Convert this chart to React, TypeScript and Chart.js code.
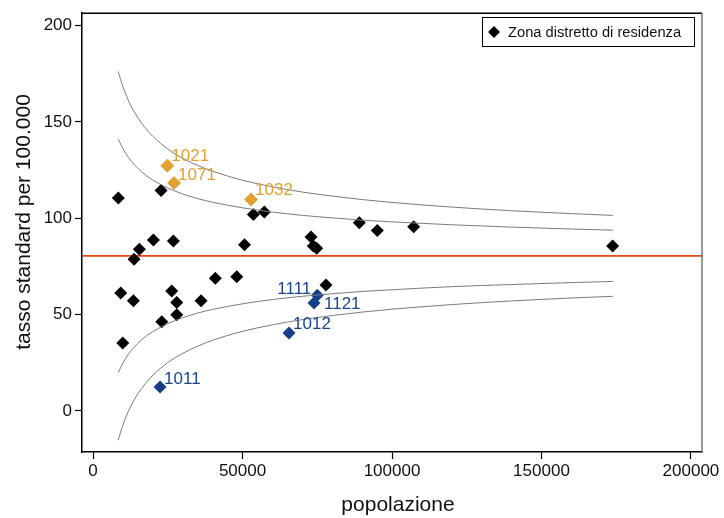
import React, { useEffect, useRef } from 'react';
import { Chart, registerables } from 'chart.js';

Chart.register(...registerables);

const FONT = '"Liberation Sans", Arial, Helvetica, sans-serif';

// Axis ticks
const xTicks = [0, 50000, 100000, 150000, 200000];
const yTicks = [0, 50, 100, 150, 200];
const X_MIN = -3700;
const X_MAX = 203700;
const Y_MIN = -21.3;
const Y_MAX = 206.4;

// Reference (overall) rate
const REFERENCE_RATE = 80.5;

// Districts within limits (black)
const districtPop = [
  8460, 22740, 53620, 57290, 20170, 26860, 15490, 13710, 50650, 72910, 73680, 74800,
  9260, 13480, 26310, 27990, 27990, 22970, 9930, 36120, 40900, 48060, 77930, 89070,
  95090, 107260, 173800,
];
const districtRate = [
  110.5, 114.4, 102.0, 103.3, 88.7, 88.2, 83.9, 78.7, 86.3, 90.3, 85.6, 84.4,
  61.2, 57.2, 62.3, 56.3, 49.9, 46.3, 35.3, 57.2, 68.9, 69.6, 65.3, 97.6,
  93.7, 95.6, 85.6,
];

// Districts above the limits (orange)
const highCodes = ['1021', '1071', '1032'];
const highPop = [24850, 27090, 52840];
const highRate = [127.3, 118.3, 109.7];

// Districts below the limits (blue)
const lowCodes = ['1011', '1012', '1111', '1121'];
const lowPop = [22410, 65550, 75020, 73910];
const lowRate = [12.4, 40.5, 60.1, 56.0];

// Funnel control limits
const limitPop = [
  8400, 10000, 12500, 15000, 17500, 20000, 25000, 30000, 35000, 40000, 50000,
  60000, 70000, 80000, 90000, 100000, 120000, 140000, 160000, 173900,
];
const upper998 = [
  176.2, 168.2, 158.9, 152.1, 146.8, 142.5, 135.9, 131.1, 127.4, 124.4, 119.7,
  116.3, 113.6, 111.5, 109.7, 108.2, 105.8, 103.9, 102.4, 101.5,
];
const upper95 = [
  141.2, 136.1, 130.2, 125.9, 122.5, 119.8, 115.7, 112.6, 110.2, 108.3, 105.4,
  103.2, 101.5, 100.2, 99.0, 98.1, 96.6, 95.4, 94.4, 93.8,
];
const lower95 = [
  19.8, 24.9, 30.8, 35.1, 38.5, 41.2, 45.3, 48.4, 50.8, 52.7, 55.6,
  57.8, 59.5, 60.8, 62.0, 62.9, 64.5, 65.6, 66.6, 67.2,
];
const lower998 = [
  -15.2, -7.2, 2.1, 8.9, 14.2, 18.5, 25.1, 29.9, 33.6, 36.7, 41.3,
  44.7, 47.4, 49.5, 51.3, 52.8, 55.2, 57.1, 58.6, 59.5,
];

const LEGEND_TEXT = 'Zona distretto di residenza';
const X_TITLE = 'popolazione';
const Y_TITLE = 'tasso standard per 100.000';

const ORANGE = '#e3a12f';
const BLUE = '#123f87';
const CURVE = '#7a7a7a';
const RED = '#ea4419';

const toPts = (xs: number[], ys: number[]) => xs.map((x, i) => ({ x, y: ys[i] }));

// label placement (offsets in px relative to the marker)
const labelPlacement: Record<string, { dx: number; dy: number; align: CanvasTextAlign }> = {
  '1021': { dx: 4, dy: -9, align: 'left' },
  '1071': { dx: 4, dy: -8, align: 'left' },
  '1032': { dx: 4, dy: -9, align: 'left' },
  '1011': { dx: 4, dy: -8, align: 'left' },
  '1012': { dx: 4, dy: -9, align: 'left' },
  '1111': { dx: -6, dy: -6, align: 'right' },
  '1121': { dx: 10, dy: 1, align: 'left' },
};

const decorPlugin = {
  id: 'decor',
  beforeDatasetsDraw(chart: any) {
    const { ctx, chartArea, scales } = chart;
    const y = scales.y.getPixelForValue(REFERENCE_RATE);
    ctx.save();
    ctx.strokeStyle = RED;
    ctx.lineWidth = 1.8;
    ctx.beginPath();
    ctx.moveTo(chartArea.left, y);
    ctx.lineTo(chartArea.right, y);
    ctx.stroke();
    ctx.restore();
  },
  afterDatasetsDraw(chart: any) {
    const { ctx } = chart;
    ctx.save();
    ctx.font = `17px ${FONT}`;
    ctx.textBaseline = 'middle';
    chart.data.datasets.forEach((ds: any, di: number) => {
      if (!ds.codes) return;
      const meta = chart.getDatasetMeta(di);
      meta.data.forEach((el: any, i: number) => {
        const code = ds.codes[i];
        const p = labelPlacement[code] || { dx: 4, dy: -8, align: 'left' };
        ctx.fillStyle = ds.labelColor;
        ctx.textAlign = p.align;
        ctx.fillText(code, el.x + p.dx, el.y + p.dy);
      });
    });
    ctx.restore();
  },
  afterDraw(chart: any) {
    const { ctx, chartArea } = chart;
    ctx.save();
    // frame: top black, right grey
    ctx.strokeStyle = '#000';
    ctx.lineWidth = 1.5;
    ctx.beginPath();
    ctx.moveTo(chartArea.left, chartArea.top);
    ctx.lineTo(chartArea.right, chartArea.top);
    ctx.stroke();
    ctx.strokeStyle = '#777';
    ctx.beginPath();
    ctx.moveTo(chartArea.right, chartArea.top);
    ctx.lineTo(chartArea.right, chartArea.bottom);
    ctx.stroke();

    // legend box
    const bx = 482.5, by = 17.5, bw = 212, bh = 29;
    ctx.fillStyle = '#fff';
    ctx.fillRect(bx, by, bw, bh);
    ctx.strokeStyle = '#000';
    ctx.lineWidth = 1;
    ctx.strokeRect(bx, by, bw, bh);
    const cx = 494, cy = by + bh / 2;
    ctx.fillStyle = '#000';
    ctx.beginPath();
    ctx.moveTo(cx, cy - 6);
    ctx.lineTo(cx + 6, cy);
    ctx.lineTo(cx, cy + 6);
    ctx.lineTo(cx - 6, cy);
    ctx.closePath();
    ctx.fill();
    ctx.font = `14.7px ${FONT}`;
    ctx.textAlign = 'left';
    ctx.textBaseline = 'middle';
    ctx.fillStyle = '#111';
    ctx.fillText(LEGEND_TEXT, 508, cy + 0.5);

    // axis titles
    ctx.font = `21px ${FONT}`;
    ctx.fillStyle = '#111';
    ctx.textAlign = 'center';
    ctx.textBaseline = 'alphabetic';
    ctx.fillText(X_TITLE, (chartArea.left + chartArea.right) / 2 + 6, 511);
    ctx.translate(30, 222);
    ctx.rotate(-Math.PI / 2);
    ctx.fillText(Y_TITLE, 0, 0);
    ctx.restore();
  },
};

export default function App() {
  const ref = useRef<HTMLCanvasElement | null>(null);

  useEffect(() => {
    if (!ref.current) return;
    const curve = (data: number[]) => ({
      data: toPts(limitPop, data),
      showLine: true,
      pointRadius: 0,
      borderColor: CURVE,
      borderWidth: 1,
      cubicInterpolationMode: 'monotone',
      fill: false,
    });
    const chart = new Chart(ref.current, {
      type: 'scatter',
      data: {
        datasets: [
          curve(upper998) as any,
          curve(upper95) as any,
          curve(lower95) as any,
          curve(lower998) as any,
          {
            data: toPts(districtPop, districtRate),
            pointStyle: 'rectRot',
            pointRadius: 6.5,
            backgroundColor: '#000',
            borderColor: '#000',
            borderWidth: 0,
          },
          {
            data: toPts(highPop, highRate),
            pointStyle: 'rectRot',
            pointRadius: 6.5,
            backgroundColor: ORANGE,
            borderColor: '#c98a1e',
            borderWidth: 0.6,
            codes: highCodes,
            labelColor: ORANGE,
          } as any,
          {
            data: toPts(lowPop, lowRate),
            pointStyle: 'rectRot',
            pointRadius: 6.5,
            backgroundColor: BLUE,
            borderColor: BLUE,
            borderWidth: 0,
            codes: lowCodes,
            labelColor: '#1c4590',
          } as any,
        ],
      },
      options: {
        animation: false,
        responsive: true,
        maintainAspectRatio: false,
        layout: { padding: { top: 11, right: 22, left: 0, bottom: 0 } },
        plugins: {
          legend: { display: false },
          tooltip: { enabled: false },
        },
        scales: {
          x: {
            type: 'linear',
            min: X_MIN,
            max: X_MAX,
            afterBuildTicks: (s: any) => {
              s.ticks = xTicks.map((v) => ({ value: v }));
            },
            afterFit: (s: any) => {
              s.height = 66;
            },
            grid: { drawOnChartArea: false, drawTicks: true, tickLength: 7, color: '#000', tickWidth: 1.2 },
            border: { display: true, color: '#000', width: 1.5 },
            ticks: {
              color: '#111',
              font: { family: FONT, size: 17 },
              padding: 2,
              maxRotation: 0,
              autoSkip: false,
              callback: (v: any) => String(v),
            },
          },
          y: {
            type: 'linear',
            min: Y_MIN,
            max: Y_MAX,
            afterBuildTicks: (s: any) => {
              s.ticks = yTicks.map((v) => ({ value: v }));
            },
            afterFit: (s: any) => {
              s.width = 82;
            },
            grid: { drawOnChartArea: false, drawTicks: true, tickLength: 7, color: '#000', tickWidth: 1.2 },
            border: { display: true, color: '#000', width: 1.5 },
            ticks: {
              color: '#111',
              font: { family: FONT, size: 17 },
              padding: 3,
              autoSkip: false,
              callback: (v: any) => String(v),
            },
          },
        },
      } as any,
      plugins: [decorPlugin],
    });
    return () => chart.destroy();
  }, []);

  return (
    <div style={{ position: 'fixed', left: 0, top: 0, width: 724, height: 518, background: '#fff' }}>
      <canvas ref={ref} />
    </div>
  );
}
